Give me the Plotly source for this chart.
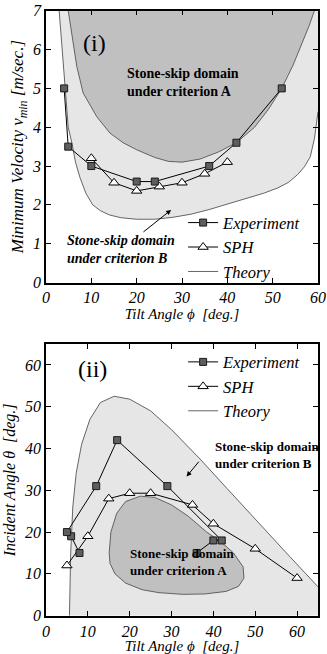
import plotly.graph_objects as go

SERIF = "Liberation Serif"

# ---- panel (i): minimum velocity vs tilt angle ----
exp1_tilt = [4, 4.9, 10, 20, 24, 36, 42, 52]
exp1_vel = [5.0, 3.5, 3.0, 2.6, 2.6, 3.0, 3.6, 5.0]
sph1_tilt = [10, 15, 20, 25, 30, 35, 40]
sph1_vel = [3.2, 2.57, 2.36, 2.47, 2.57, 2.8, 3.1]

# theory boundary, criterion B (outer)
thB1_tilt = [2.9, 3.4, 3.8, 4.2, 4.9, 5.7, 6.5, 7.5, 8.8, 10.3, 12, 14, 16.5, 20, 24, 28,
             32, 36, 40, 44, 48, 51, 53.5, 55.5, 57, 58.3, 59.2, 60]
thB1_vel = [7.0, 6.2, 5.5, 5.0, 4.0, 3.6, 3.1, 2.7, 2.3, 2.0, 1.85, 1.74, 1.67, 1.63, 1.63, 1.68,
            1.76, 1.88, 2.02, 2.15, 2.3, 2.43, 2.58, 2.78, 2.98, 3.24, 3.7, 4.4]
# theory boundary, criterion A (inner)
thA1_tilt = [4.9, 5.7, 6.8, 8.2, 11.2, 14.1, 17, 20, 24, 27, 30, 34, 38, 42, 46, 49, 52,
             54.5, 56.5, 58, 59.2]
thA1_vel = [7.0, 6.42, 5.56, 4.88, 4.27, 3.85, 3.6, 3.42, 3.22, 3.12, 3.1, 3.18, 3.36, 3.6,
            4.0, 4.45, 5.0, 5.6, 6.15, 6.6, 7.0]

# ---- panel (ii): incident angle vs tilt angle ----
exp2_tilt = [8, 6, 5, 12, 17, 29, 42, 40, 36]
exp2_inc = [15, 19, 20, 31, 42, 31, 18, 18, 15]
sph2_tilt = [5, 10, 15, 20, 25, 35, 40, 50, 60]
sph2_inc = [12, 19, 28, 29.3, 29.3, 26.5, 22, 16, 9]

thB2_tilt = [5.6, 5.7, 5.9, 6.4, 7.2, 8.5, 10.5, 13, 16.3, 20, 25, 30, 36.8, 43.2, 50, 57, 65]
thB2_inc = [0, 8, 15, 26, 34, 41, 47, 51, 52.5, 51.8, 49, 44.5, 37.5, 30.5, 23, 15.5, 6.9]

thA2_tilt = [15.1, 15.5, 16.9, 19, 22.5, 26, 30, 34, 38.4, 42, 44.8, 47.1, 47.3, 46, 43, 38,
             32.8, 27, 23, 19, 16.5, 15.3, 15.1]
thA2_inc = [15, 20, 24.5, 27.3, 28.6, 28.3, 26.5, 23.8, 20, 17.5, 15, 11.7, 9, 7, 5.8, 5.2,
            5.1, 5.5, 6.2, 7.8, 10, 12.5, 15]

X1_MAX, Y1_MAX = 60, 7
X2_MAX, Y2_MAX = 65, 65

LIGHT = "#e6e6e6"
DARK = "#c0c0c0"
THEORY = "#555555"

fig = go.Figure()

# filled domains
fig.add_trace(go.Scatter(x=thB1_tilt + [X1_MAX], y=thB1_vel + [Y1_MAX], fill="toself",
                         fillcolor=LIGHT, line=dict(width=0), mode="lines",
                         showlegend=False, hoverinfo="skip", xaxis="x", yaxis="y"))
fig.add_trace(go.Scatter(x=thA1_tilt, y=thA1_vel, fill="toself", fillcolor=DARK,
                         line=dict(width=0), mode="lines", showlegend=False,
                         hoverinfo="skip", xaxis="x", yaxis="y"))
fig.add_trace(go.Scatter(x=thB2_tilt + [X2_MAX], y=thB2_inc + [0], fill="toself",
                         fillcolor=LIGHT, line=dict(width=0), mode="lines",
                         showlegend=False, hoverinfo="skip", xaxis="x2", yaxis="y2"))
fig.add_trace(go.Scatter(x=thA2_tilt, y=thA2_inc, fill="toself", fillcolor=DARK,
                         line=dict(width=0), mode="lines", showlegend=False,
                         hoverinfo="skip", xaxis="x2", yaxis="y2"))

# theory curves
for xs, ys, ax, ay, leg, show in [
    (thB1_tilt, thB1_vel, "x", "y", "legend", True),
    (thA1_tilt, thA1_vel, "x", "y", "legend", False),
    (thB2_tilt, thB2_inc, "x2", "y2", "legend2", True),
    (thA2_tilt, thA2_inc, "x2", "y2", "legend2", False),
]:
    fig.add_trace(go.Scatter(x=xs, y=ys, mode="lines", name="Theory",
                             line=dict(color=THEORY, width=0.9),
                             showlegend=show, legend=leg, legendrank=3,
                             xaxis=ax, yaxis=ay))

# data
exp_marker = dict(symbol="square", size=7, color="#5e5e5e", line=dict(color="#1a1a1a", width=1))
sph_marker = dict(symbol="triangle-up", size=9, color="white", line=dict(color="black", width=1))

fig.add_trace(go.Scatter(x=sph1_tilt, y=sph1_vel, mode="lines+markers", name="SPH",
                         line=dict(color="black", width=1), marker=sph_marker,
                         legend="legend", legendrank=2, xaxis="x", yaxis="y"))
fig.add_trace(go.Scatter(x=exp1_tilt, y=exp1_vel, mode="lines+markers", name="Experiment",
                         line=dict(color="black", width=1), marker=exp_marker,
                         legend="legend", legendrank=1, xaxis="x", yaxis="y"))
fig.add_trace(go.Scatter(x=sph2_tilt, y=sph2_inc, mode="lines+markers", name="SPH",
                         line=dict(color="black", width=1), marker=sph_marker,
                         legend="legend2", legendrank=2, xaxis="x2", yaxis="y2"))
fig.add_trace(go.Scatter(x=exp2_tilt, y=exp2_inc, mode="lines+markers", name="Experiment",
                         line=dict(color="black", width=1), marker=exp_marker,
                         legend="legend2", legendrank=1, xaxis="x2", yaxis="y2"))

tickfont = dict(family=SERIF, size=16, color="black", style="italic")
xtitlefont = dict(family=SERIF, size=15, color="black", style="italic")
axis_common = dict(showgrid=False, zeroline=False, showline=True, linecolor="black",
                   linewidth=1.5, mirror="ticks", ticks="inside", ticklen=5,
                   tickwidth=1, tickcolor="black", tickfont=tickfont, dtick=10,
                   automargin=False)
legend_common = dict(xanchor="left", yanchor="top", bgcolor="rgba(0,0,0,0)",
                     font=dict(family=SERIF, size=16.5, style="italic", color="black"),
                     tracegroupgap=0, itemwidth=30)

fig.update_layout(
    width=327, height=654,
    margin=dict(l=0, r=0, t=0, b=0),
    paper_bgcolor="white", plot_bgcolor="white",
    xaxis=dict(axis_common, domain=[0.1407, 0.9725], range=[0, X1_MAX], anchor="y",
               title=dict(text="Tilt Angle ϕ  [deg.]", font=xtitlefont, standoff=2)),
    yaxis=dict(axis_common, domain=[0.568, 0.9836], range=[0, Y1_MAX], dtick=1, anchor="x",
               title=dict(text="Minimum Velocity <i>v</i><sub>min</sub> [m/sec.]",
                          font=dict(family=SERIF, size=17, color="black", style="italic"),
                          standoff=4)),
    xaxis2=dict(axis_common, domain=[0.1407, 0.9725], range=[0, X2_MAX], anchor="y2",
                title=dict(text="Tilt Angle ϕ  [deg.]", font=xtitlefont, standoff=2)),
    yaxis2=dict(axis_common, domain=[0.0586, 0.474], range=[0, Y2_MAX], anchor="x2",
                title=dict(text="Incident Angle θ  [deg.]",
                           font=dict(family=SERIF, size=16, color="black", style="italic"),
                           standoff=4)),
    legend=dict(legend_common, x=0.56, y=0.686),
    legend2=dict(legend_common, x=0.56, y=0.473),
    showlegend=True,
)

bold = dict(family=SERIF, size=14, color="black")
bold_small = dict(family=SERIF, size=13, color="black")
fig.add_annotation(x=10.8, y=6.16, xref="x", yref="y", text="(i)", showarrow=False,
                   font=dict(family=SERIF, size=24, color="black"))
fig.add_annotation(x=30.3, y=5.14, xref="x", yref="y",
                   text="<b>Stone-skip domain<br>under criterion A</b>", showarrow=False,
                   font=bold, align="left")
fig.add_annotation(x=27.6, y=1.87, ax=16.5, ay=0.84, xref="x", yref="y", axref="x", ayref="y",
                   text="<b><i>Stone-skip domain<br>under criterion B</i></b>",
                   font=bold, align="left", showarrow=True, arrowhead=2, arrowsize=1,
                   arrowwidth=1, arrowcolor="black")

fig.add_annotation(x=11, y=59, xref="x2", yref="y2", text="(ii)", showarrow=False,
                   font=dict(family=SERIF, size=24, color="black"))
fig.add_annotation(x=52.9, y=38.4, xref="x2", yref="y2",
                   text="<b>Stone-skip domain<br>under criterion B</b>", showarrow=False,
                   font=bold_small, align="left")
fig.add_annotation(x=33.6, y=33.3, ax=36.8, ay=37.2, xref="x2", yref="y2", axref="x2",
                   ayref="y2", text="", showarrow=True, arrowhead=2, arrowsize=1,
                   arrowwidth=1, arrowcolor="black")
fig.add_annotation(x=32.6, y=12.8, xref="x2", yref="y2",
                   text="<b>Stone-skip domain<br>under criterion A</b>", showarrow=False,
                   font=bold_small, align="left")

# page body has a default 8px margin; drop it so the figure sits at the window origin
fig.write_html("out.html", config={"displayModeBar": False},
               post_script="document.body.style.margin='0';")
